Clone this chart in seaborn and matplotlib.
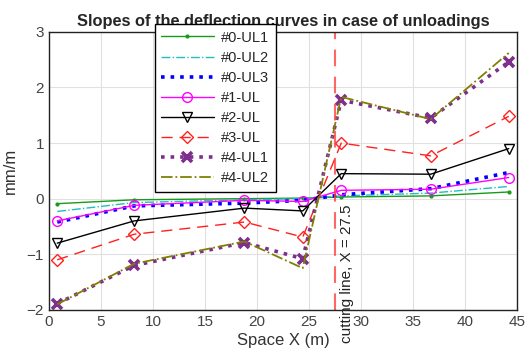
import numpy as np
import pandas as pd
import matplotlib
matplotlib.use("Agg")
import matplotlib.pyplot as plt
import seaborn as sns

# Data
x_pos = [0.8, 8.2, 18.8, 24.4, 28.1, 36.7, 44.2]

ul0_1 = [-0.09, -0.02, 0.00, 0.01, 0.03, 0.05, 0.12]
ul0_2 = [-0.23, -0.07, -0.02, 0.00, 0.05, 0.10, 0.22]
ul0_3 = [-0.42, -0.13, -0.08, -0.03, 0.07, 0.18, 0.47]
ul1 = [-0.40, -0.12, -0.03, -0.05, 0.15, 0.17, 0.38]
ul2 = [-0.80, -0.40, -0.17, -0.22, 0.45, 0.44, 0.90]
ul3 = [-1.10, -0.64, -0.42, -0.69, 1.00, 0.77, 1.48]
ul4_1 = [-1.89, -1.20, -0.79, -1.08, 1.77, 1.45, 2.46]
ul4_2 = [-1.90, -1.17, -0.77, -1.25, 1.83, 1.43, 2.62]

labels = ["#0-UL1", "#0-UL2", "#0-UL3", "#1-UL", "#2-UL", "#3-UL", "#4-UL1", "#4-UL2"]
series = [ul0_1, ul0_2, ul0_3, ul1, ul2, ul3, ul4_1, ul4_2]
cut_x = 27.5

styles = [
    dict(color="#1a9a1a", ls="-", lw=1.0, marker=".", ms=4),
    dict(color="#1fbfbf", ls="-.", lw=1.0, marker=None),
    dict(color="#0000ff", ls=":", lw=2.6, marker=None),
    dict(color="#ff00ff", ls="-", lw=1.0, marker="o", ms=7, mfc="none"),
    dict(color="black", ls="-", lw=1.0, marker="v", ms=7, mfc="none"),
    dict(color="#ff2020", ls=(0, (8, 5)), lw=1.0, marker="D", ms=6.5, mfc="none"),
    dict(color="#7e2f8e", ls=":", lw=2.6, marker="x", ms=6.5, mew=2.6),
    dict(color="#808000", ls="-.", lw=1.3, marker=None),
]

sns.set_style("whitegrid")
plt.rcParams["font.family"] = ["Liberation Sans", "DejaVu Sans"]

fig = plt.figure(figsize=(5.26, 3.62), dpi=100)
ax = fig.add_axes([0.093, 0.144, 0.89, 0.768])

for lab, ys, st in zip(labels, series, styles):
    df = pd.DataFrame({"x": x_pos, "y": ys})
    sns.lineplot(data=df, x="x", y="y", ax=ax, label=lab, color=st["color"],
                 linestyle=st["ls"], linewidth=st["lw"], marker=st["marker"],
                 markersize=st.get("ms", 6), markerfacecolor=st.get("mfc", st["color"]),
                 markeredgecolor=st["color"], markeredgewidth=st.get("mew", 1.0),
                 sort=False, estimator=None)

ax.axvline(cut_x, color="#ff4040", ls=(0, (8, 5)), lw=1.5, alpha=0.8)
ax.text(cut_x + 0.5, -2.6, "cutting line, X = 27.5", rotation=90, va="bottom",
        ha="left", fontsize=11, color="#222222", clip_on=False)

ax.set_xlim(0, 45)
ax.set_ylim(-2, 3)
ax.set_xticks(range(0, 46, 5))
ax.set_yticks(range(-2, 4))
ax.set_title("Slopes of the deflection curves in case of unloadings",
             fontsize=11.8, fontweight="bold", pad=4)
ax.set_xlabel("Space X (m)", fontsize=12, color="#333333", labelpad=3)
ax.set_ylabel("mm/m", fontsize=12, color="#333333", labelpad=6)
ax.tick_params(axis="both", labelsize=11, colors="#444444", direction="in", length=4)
ax.grid(True, color="#e0e0e0", lw=0.8)
for s in ax.spines.values():
    s.set_color("#222222")
    s.set_linewidth(1.0)

leg = ax.legend(loc="upper left", bbox_to_anchor=(0.28, 0.954),
                bbox_transform=fig.transFigure, fontsize=10.5, frameon=True,
                fancybox=False, edgecolor="black", handlelength=3.6,
                labelspacing=0.42, borderpad=0.45, handletextpad=0.5)
leg.get_frame().set_linewidth(1.0)
leg.get_frame().set_alpha(1.0)
leg.set_zorder(5)

fig.savefig("out.png", dpi=100)
